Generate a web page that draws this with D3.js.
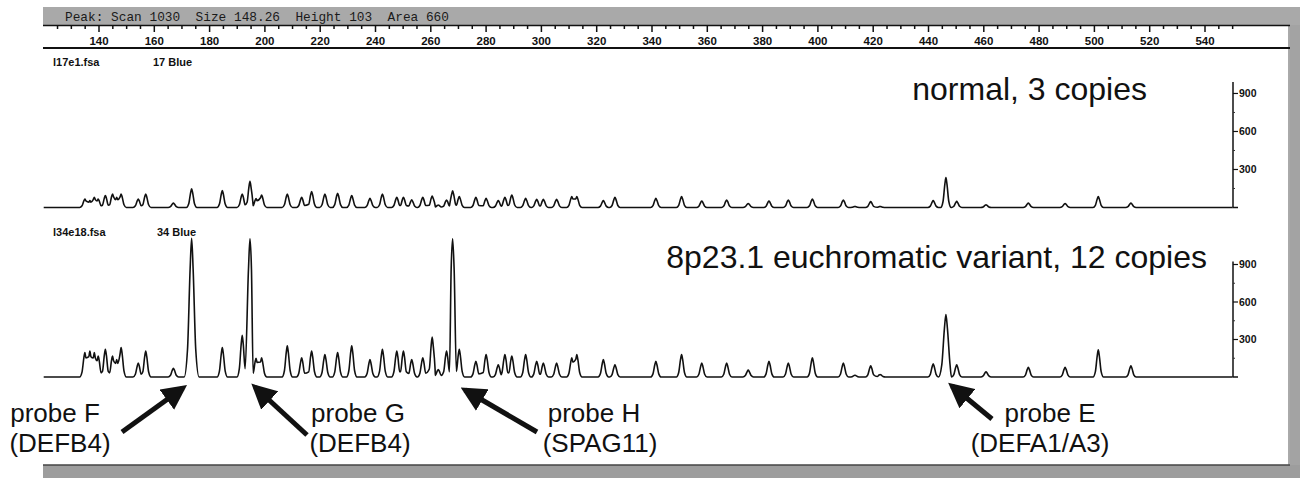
<!DOCTYPE html>
<html>
<head>
<meta charset="utf-8">
<script src="https://cdn.jsdelivr.net/npm/d3@7"></script>
<style>
body { margin: 0; background: #fff; }
svg { display: block; }
</style>
</head>
<body>
<svg id="chart" width="1300" height="478"></svg>
<script>
// 峰位置（size, bp），两条曲线共用
const peakSizes = [
    134.9, 136.7, 138.3, 139.7, 142.3, 144.9, 146.4, 148.0, 154.2, 156.9,
    166.9, 173.5, 184.6, 191.8, 194.6, 196.8, 198.8, 208.1, 213.3, 216.9,
    221.7, 226.3, 231.4, 238.0, 242.5, 247.7, 250.1, 253.1, 257.1, 260.5,
    262.7, 265.7, 267.9, 270.3, 276.3, 280.0, 284.4, 286.8, 289.3, 294.3,
    298.3, 300.7, 305.5, 311.0, 312.8, 322.4, 326.6, 341.4, 350.7, 358.0,
    367.0, 374.8, 382.3, 389.3, 398.0, 409.2, 413.4, 419.1, 422.5, 441.7,
    446.3, 450.2, 460.8, 476.1, 489.4, 501.4, 513.2
];

// 正常样本峰高 (RFU)
const heightsNormal = [
    67, 54, 80, 67, 94, 107, 80, 107, 67, 107,
    35, 147, 134, 107, 206, 70, 99, 107, 80, 126,
    107, 113, 94, 72, 107, 80, 80, 60, 80, 91,
    20, 59, 131, 86, 80, 72, 54, 80, 99, 72,
    64, 64, 64, 86, 86, 54, 80, 72, 86, 51,
    59, 32, 51, 59, 67, 59, 8, 46, 8, 54,
    236, 48, 21, 35, 32, 86, 35
];

// 8p23.1 变异样本峰高 (RFU)
const heightsVariant = [
    195, 208, 195, 167, 222, 167, 140, 236, 111, 208,
    70, 1110, 236, 334, 1105, 150, 153, 250, 153, 208,
    180, 195, 250, 139, 222, 208, 208, 139, 153, 320,
    60, 208, 1105, 222, 125, 180, 97, 180, 167, 180,
    125, 111, 111, 153, 180, 139, 97, 125, 180, 111,
    111, 56, 125, 111, 153, 111, 14, 89, 20, 106,
    499, 97, 42, 78, 78, 217, 89
];

const sizeTicks = [140, 160, 180, 200, 220, 240, 260, 280, 300, 320, 340, 360, 380, 400, 420, 440, 460, 480, 500, 520, 540];
const rfuTicks = [300, 600, 900];
const traceRange = [120, 550];

const headerText = 'Peak: Scan 1030  Size 148.26  Height 103  Area 660';
const fileNames = ['l17e1.fsa', 'l34e18.fsa'];
const dyeNames = ['17 Blue', '34 Blue'];
const panelTitles = ['normal, 3 copies', '8p23.1 euchromatic variant, 12 copies'];

const probeNames = ['probe F', 'probe G', 'probe H', 'probe E'];
const probeGenes = ['(DEFB4)', '(DEFB4)', '(SPAG11)', '(DEFA1/A3)'];

const svg = d3.select('#chart');
const font = 'Liberation Sans, Arial, Helvetica, sans-serif';

// 比例尺
const x = d3.scaleLinear().domain([140, 540]).range([99, 1205]);
const axisX = 1233;

// 背景框
svg.append('rect').attr('x', 43).attr('y', 7).attr('width', 1257).attr('height', 18).attr('fill', '#a9a9a9');
svg.append('rect').attr('x', 1290).attr('y', 25).attr('width', 10).attr('height', 453).attr('fill', '#a3a3a3');
svg.append('rect').attr('x', 43).attr('y', 465).attr('width', 1257).attr('height', 13).attr('fill', '#9d9d9d');
svg.append('line').attr('x1', 43).attr('x2', 1290).attr('y1', 465).attr('y2', 465).attr('stroke', '#444').attr('stroke-width', 1.5);
svg.append('line').attr('x1', 1289).attr('x2', 1289).attr('y1', 25).attr('y2', 465).attr('stroke', '#555').attr('stroke-width', 1);

svg.append('text')
    .attr('x', 65).attr('y', 21)
    .style('white-space', 'pre')
    .attr('font-family', 'Liberation Mono, Courier New, monospace')
    .attr('font-size', 12.8)
    .attr('fill', '#1a1a1a')
    .text(headerText);

// 顶部 size 轴
svg.append('line').attr('x1', 43).attr('x2', 1290).attr('y1', 25.5).attr('y2', 25.5).attr('stroke', '#111').attr('stroke-width', 1.5);
svg.append('line').attr('x1', 43).attr('x2', 1290).attr('y1', 48).attr('y2', 48).attr('stroke', '#111').attr('stroke-width', 2);

const minorTicks = d3.range(125, 551, 5).filter(v => v % 20 !== 0);
svg.append('g').selectAll('line').data(minorTicks).join('line')
    .attr('x1', d => x(d)).attr('x2', d => x(d))
    .attr('y1', 25).attr('y2', 29)
    .attr('stroke', '#111').attr('stroke-width', 1.5);

const sizeAxis = svg.append('g');
sizeAxis.selectAll('line').data(sizeTicks).join('line')
    .attr('x1', d => x(d)).attr('x2', d => x(d))
    .attr('y1', 25).attr('y2', 32)
    .attr('stroke', '#111').attr('stroke-width', 1.5);
sizeAxis.selectAll('text').data(sizeTicks).join('text')
    .attr('x', d => x(d)).attr('y', 45)
    .attr('text-anchor', 'middle')
    .attr('font-family', font).attr('font-weight', 'bold').attr('font-size', 11.5)
    .attr('fill', '#111')
    .text(d => d);

// 峰形转成折线顶点
const shapeOffsets = [-1, -0.55, -0.2, 0, 0.2, 0.55, 1];
const shapeLevels = [0, 0.2, 0.78, 1, 0.78, 0.2, 0];

function traceVertices(heights) {
    const peaks = peakSizes.map((s, i) => ({ s: s, h: heights[i], w: heights[i] > 400 ? 2.7 : 1.9 }));
    const pts = [[traceRange[0], 0]];
    peaks.forEach((p, i) => {
        const prev = peaks[i - 1];
        const next = peaks[i + 1];
        const lo = prev && prev.s + prev.w > p.s - p.w ? (prev.s + p.s) / 2 : -Infinity;
        const hi = next && p.s + p.w > next.s - next.w ? (p.s + next.s) / 2 : Infinity;
        shapeOffsets.forEach((o, k) => {
            const sx = p.s + o * p.w;
            if (sx > lo && sx < hi) pts.push([sx, p.h * shapeLevels[k]]);
        });
    });
    pts.push([traceRange[1], 0]);
    return pts;
}

const panels = [
    { base: 207.5, pxPerUnit: 0.1267, top: 990, heights: heightsNormal, labelY: 66, titleX: 1147, titleY: 100 },
    { base: 377, pxPerUnit: 0.125, top: 925, heights: heightsVariant, labelY: 236, titleX: 1207, titleY: 268 }
];

panels.forEach((p, i) => {
    const y = d3.scaleLinear().domain([0, 1000]).range([p.base, p.base - 1000 * p.pxPerUnit]);
    const g = svg.append('g');

    g.append('text').attr('x', 53).attr('y', p.labelY)
        .attr('font-family', font).attr('font-weight', 'bold').attr('font-size', 11)
        .attr('fill', '#111').text(fileNames[i]);
    g.append('text').attr('x', i === 0 ? 153 : 157).attr('y', p.labelY)
        .attr('font-family', font).attr('font-weight', 'bold').attr('font-size', 11)
        .attr('fill', '#111').text(dyeNames[i]);

    g.append('text').attr('x', p.titleX).attr('y', p.titleY)
        .attr('text-anchor', 'end')
        .attr('font-family', font).attr('font-size', 32)
        .attr('fill', '#111').text(panelTitles[i]);

    // 右侧 RFU 轴
    g.append('line').attr('x1', axisX).attr('x2', axisX)
        .attr('y1', y(0)).attr('y2', y(p.top))
        .attr('stroke', '#111').attr('stroke-width', 1.5);
    g.append('line').attr('x1', x(traceRange[1])).attr('x2', axisX + 5)
        .attr('y1', y(0)).attr('y2', y(0))
        .attr('stroke', '#111').attr('stroke-width', 1.5);
    g.selectAll('.minor').data([150, 450, 750]).join('line')
        .attr('x1', axisX).attr('x2', axisX + 2)
        .attr('y1', d => y(d)).attr('y2', d => y(d))
        .attr('stroke', '#333').attr('stroke-width', 1);
    g.selectAll('.tick').data(rfuTicks).join('line')
        .attr('x1', axisX).attr('x2', axisX + 5)
        .attr('y1', d => y(d)).attr('y2', d => y(d))
        .attr('stroke', '#111').attr('stroke-width', 1.2);
    g.selectAll('.ticklabel').data(rfuTicks).join('text')
        .attr('x', axisX + 6).attr('y', d => y(d)).attr('dy', '0.35em')
        .attr('font-family', font).attr('font-weight', 'bold').attr('font-size', 10.5)
        .attr('fill', '#111').text(d => d);

    // 电泳曲线
    const line = d3.line().x(d => x(d[0])).y(d => y(d[1])).curve(d3.curveMonotoneX);
    g.append('path')
        .attr('d', line(traceVertices(p.heights)))
        .attr('fill', 'none')
        .attr('stroke', '#111')
        .attr('stroke-width', 1.6)
        .attr('stroke-linejoin', 'round');
});

// 探针标注
const probeLayout = [
    { tip: [183, 388], tail: [122, 432], cx: 55, gx: 60 },
    { tip: [255, 387], tail: [307, 435], cx: 358, gx: 360 },
    { tip: [465, 390], tail: [537, 432], cx: 594, gx: 600 },
    { tip: [952, 386], tail: [992, 419], cx: 1050, gx: 1040 }
];

svg.append('defs').append('marker')
    .attr('id', 'head')
    .attr('viewBox', '0 0 10 10')
    .attr('refX', 8).attr('refY', 5)
    .attr('markerWidth', 5).attr('markerHeight', 5)
    .attr('orient', 'auto')
    .append('path').attr('d', 'M0,0 L10,5 L0,10 z').attr('fill', '#111');

const ann = svg.append('g');
probeLayout.forEach((a, i) => {
    ann.append('line')
        .attr('x1', a.tail[0]).attr('y1', a.tail[1])
        .attr('x2', a.tip[0]).attr('y2', a.tip[1])
        .attr('stroke', '#111').attr('stroke-width', 5)
        .attr('marker-end', 'url(#head)');
    ann.append('text').attr('x', a.cx).attr('y', 422)
        .attr('text-anchor', 'middle')
        .attr('font-family', font).attr('font-size', 26)
        .attr('fill', '#111').text(probeNames[i]);
    ann.append('text').attr('x', a.gx).attr('y', 452)
        .attr('text-anchor', 'middle')
        .attr('font-family', font).attr('font-size', 26)
        .attr('fill', '#111').text(probeGenes[i]);
});
</script>
</body>
</html>
